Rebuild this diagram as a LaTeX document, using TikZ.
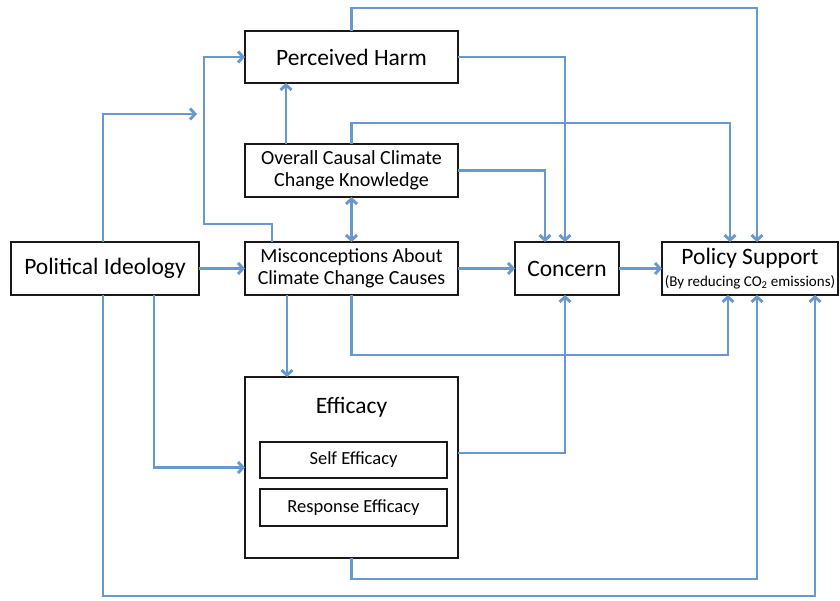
\documentclass[tikz,border=0pt]{standalone}
\usepackage{fontspec}
\setmainfont{Carlito}
\usetikzlibrary{arrows.meta, positioning}
\definecolor{linkblue}{RGB}{104,152,205}
\definecolor{boxdark}{RGB}{25,25,25}

\begin{document}
\begin{tikzpicture}[x=1pt, y=1pt,
    box/.style={rectangle, draw=boxdark, line width=1.5pt, outer sep=0pt, inner sep=1pt, align=center, minimum height=53pt},
    bigtext/.style={font=\fontsize{23.5}{26}\selectfont},
    midtext/.style={font=\fontsize{20}{22}\selectfont},
    smalltext/.style={font=\fontsize{18.5}{21}\selectfont},
    link/.style={-{Straight Barb[length=5pt, width=11pt]}, line width=2.9pt, color=linkblue},
    twoway/.style={link, {Straight Barb[length=5pt, width=11pt]}-{Straight Barb[length=5pt, width=11pt]}}
]
\useasboundingbox (0,0) rectangle (840,600);
\node[box, bigtext, minimum width=188pt] (ideo) at (105,331.5) {Political Ideology};
\node[box, midtext, minimum width=213pt, right=46pt of ideo] (misc) {Misconceptions About\\Climate Change Causes};
\node[box, bigtext, minimum width=104pt, right=57pt of misc] (concern) {Concern};
\node[box, bigtext, minimum width=176pt, right=43pt of concern] (policy) {Policy Support\\[-4pt]{\fontsize{15}{17}\selectfont (By reducing CO\textsubscript{2} emissions)}};
\node[box, midtext, minimum width=213pt, above=45pt of misc] (know) {Overall Causal Climate\\Change Knowledge};
\node[box, bigtext, minimum width=213pt, minimum height=52pt, above=61pt of know] (harm) {Perceived Harm};
\node[box, minimum width=213pt, minimum height=181pt, below=82pt of misc] (eff) {};
\node[bigtext, anchor=center] (efftitle) at ([yshift=-30]eff.north) {Efficacy};
\node[box, smalltext, minimum width=187pt, minimum height=36pt, anchor=north] (self) at ([xshift=2, yshift=-65]eff.north) {Self Efficacy};
\node[box, smalltext, minimum width=187pt, minimum height=37pt, below=11pt of self] (resp) {Response Efficacy};
\coordinate (modend) at ([xshift=-48, yshift=-31]harm.south west);
\draw[link] (ideo) -- (misc);
\draw[link] (misc) -- (concern);
\draw[link] (concern) -- (policy);
\draw[link] ([xshift=41]know.north west) -- ([xshift=41]harm.south west);
\draw[twoway] (know.south) -- (misc.north);
\draw[link] ([xshift=27]misc.north west) -- ++(0,18) -| ([xshift=-41]harm.west) -- (harm.west);
\draw[link] ([xshift=92]ideo.north west) |- (modend);
\draw[link] (harm.north) -- ++(0,23) -| ([xshift=95]policy.north west);
\draw[link] (harm.east) -| ([xshift=50]concern.north west);
\draw[link] (know.north) -- ++(0,21) -| ([xshift=68]policy.north west);
\draw[link] (know.east) -| ([xshift=30]concern.north west);
\draw[link] ([xshift=42]misc.south west) -- ([xshift=42]eff.north west);
\draw[link] (misc.south) -- ++(0,-60) -| ([xshift=66]policy.south west);
\draw[link] ([xshift=143]ideo.south west) |- (eff.west);
\draw[link] ([xshift=92]ideo.south west) -- ++(0,-301) -| ([xshift=153]policy.south west);
\draw[link] ([yshift=-76]eff.north east) -| ([xshift=50]concern.south west);
\draw[link] (eff.south) -- ++(0,-21) -| ([xshift=95]policy.south west);
\end{tikzpicture}
\end{document}
